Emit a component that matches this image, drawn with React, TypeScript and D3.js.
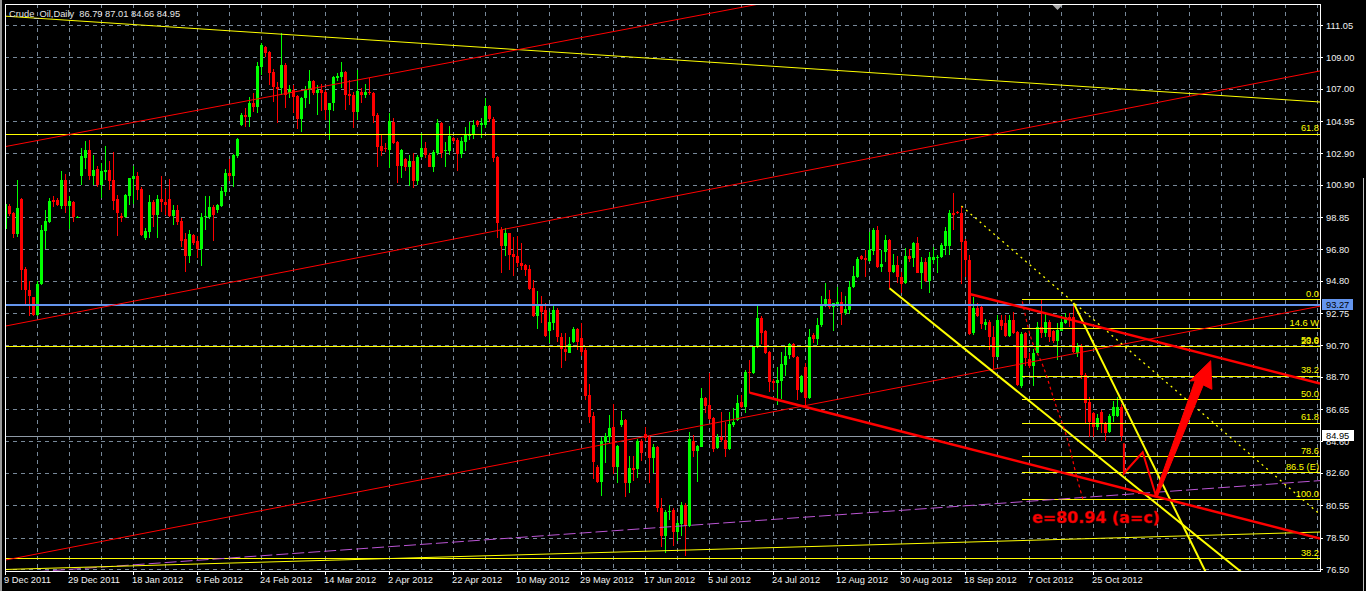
import * as d3 from 'd3';

const WIDTH = 1366;
const HEIGHT = 591;
const PLOT = { left: 5, top: 4, right: 1320, bottom: 571 };

const header = 'Crude_Oil,Daily  86.79 87.01 84.66 84.95';

// daily OHLC, one value per bar
const open = [
  98.10, 99.56, 99.14, 97.79, 100.01, 95.56, 94.23, 93.76, 92.64, 94.61,
  97.99, 98.57, 99.94, 99.94, 99.56, 101.21, 99.56, 99.82, 98.84, 101.43,
  102.63, 103.12, 101.49, 101.89, 100.90, 101.70, 101.85, 101.21, 100.01, 98.93,
  98.84, 100.16, 101.28, 101.43, 100.64, 97.51, 97.93, 99.78, 98.99, 100.01,
  99.78, 100.01, 98.93, 99.31, 98.63, 97.47, 96.35, 97.72, 97.30, 96.83,
  98.84, 98.84, 99.52, 99.27, 99.56, 100.47, 101.68, 101.49, 102.70, 104.70,
  105.34, 105.19, 106.08, 105.87, 108.41, 109.63, 109.36, 108.09, 107.09, 107.03,
  108.51, 106.71, 106.92, 106.54, 105.06, 106.39, 106.92, 107.50, 106.75, 106.92,
  106.82, 105.65, 106.08, 107.67, 107.77, 108.05, 106.67, 106.61, 105.55, 106.82,
  106.61, 106.82, 106.71, 105.34, 103.37, 103.26, 103.11, 104.91, 103.60, 102.10,
  102.52, 102.06, 102.42, 101.15, 102.69, 103.26, 102.80, 102.06, 102.90, 104.81,
  103.07, 103.07, 103.85, 103.75, 102.86, 103.64, 104.00, 104.13, 104.96, 104.70,
  104.70, 105.91, 105.08, 102.69, 98.03, 97.02, 97.82, 96.51, 96.38, 95.96,
  95.81, 95.54, 94.33, 92.57, 93.21, 92.95, 91.64, 92.15, 92.95, 91.26,
  90.45, 90.24, 90.94, 91.73, 91.15, 90.41, 87.55, 86.22, 83.00, 82.05,
  84.59, 84.91, 85.50, 83.00, 85.65, 85.97, 81.95, 82.94, 82.83, 84.65,
  85.08, 84.87, 83.53, 84.23, 80.36, 78.60, 80.14, 80.25, 78.87, 79.36,
  80.57, 79.24, 84.65, 84.02, 84.27, 87.34, 86.92, 86.07, 84.17, 84.91,
  84.70, 84.10, 85.65, 85.97, 87.13, 86.81, 89.04, 88.93, 90.58, 92.47,
  91.62, 90.31, 88.44, 88.30, 88.47, 89.46, 90.10, 90.79, 89.99, 87.77,
  89.36, 87.34, 91.37, 91.09, 92.00, 93.27, 93.65, 93.12, 93.27, 93.48,
  92.74, 92.95, 94.39, 95.07, 96.38, 96.26, 96.09, 96.72, 98.03, 95.71,
  96.66, 97.40, 95.39, 95.81, 95.03, 94.65, 96.38, 96.23, 97.19, 95.33,
  96.02, 94.82, 96.13, 96.23, 96.30, 97.02, 97.02, 99.14, 99.20, 99.14,
  97.35, 96.13, 91.47, 93.06, 93.17, 92.00, 92.21, 91.22, 89.99, 92.32,
  92.11, 91.30, 92.32, 91.58, 88.13, 91.47, 89.82, 89.40, 90.20, 91.85,
  91.47, 92.21, 91.64, 91.01, 91.64, 92.15, 92.53, 92.49, 90.24, 90.62,
  88.83, 87.13, 86.43, 85.54, 86.50, 85.80, 85.23, 86.22, 86.22, 86.79,
];

const high = [
  99.78, 99.69, 99.20, 101.22, 100.07, 95.71, 94.76, 93.80, 94.82, 98.36,
  99.27, 100.05, 100.20, 100.05, 101.79, 101.60, 100.20, 99.88, 98.90, 103.23,
  103.69, 103.75, 102.80, 102.10, 102.27, 103.37, 102.42, 102.97, 100.26, 99.10,
  100.30, 101.36, 102.10, 101.74, 100.79, 98.14, 100.26, 99.94, 100.26, 101.43,
  100.62, 101.26, 99.63, 99.63, 98.78, 97.83, 98.04, 97.79, 97.66, 99.14,
  100.20, 100.20, 99.63, 99.69, 100.79, 101.89, 102.53, 102.87, 103.86, 105.49,
  105.76, 106.46, 106.71, 108.72, 109.89, 109.72, 109.42, 108.24, 107.45, 110.56,
  108.66, 107.24, 107.24, 106.61, 106.50, 107.18, 108.20, 107.56, 107.24, 107.30,
  106.92, 106.12, 107.81, 108.03, 108.68, 108.15, 107.56, 106.82, 108.20, 107.03,
  107.30, 107.67, 106.82, 105.44, 104.07, 103.54, 105.49, 105.13, 103.69, 103.16,
  102.58, 102.80, 102.90, 102.80, 104.22, 103.64, 102.90, 103.11, 105.06, 104.91,
  103.64, 104.64, 103.92, 103.85, 103.96, 104.55, 104.91, 105.02, 105.02, 105.13,
  106.39, 105.97, 105.19, 102.73, 98.25, 98.14, 97.86, 97.61, 97.65, 97.23,
  95.87, 95.81, 94.86, 94.16, 93.84, 93.38, 92.85, 93.27, 93.06, 91.47,
  91.47, 91.26, 91.85, 91.79, 92.15, 90.52, 88.25, 86.50, 83.11, 84.91,
  85.12, 86.28, 86.98, 84.38, 86.56, 86.01, 83.68, 83.68, 84.74, 84.74,
  85.54, 84.95, 84.44, 84.32, 80.99, 80.25, 80.57, 80.36, 79.62, 80.78,
  80.67, 85.22, 85.01, 84.38, 87.98, 87.45, 88.97, 86.18, 85.08, 86.50,
  85.86, 86.50, 86.71, 87.56, 87.56, 89.14, 89.78, 90.67, 93.21, 92.57,
  91.68, 90.37, 88.55, 89.36, 90.31, 90.62, 90.88, 90.88, 90.03, 88.83,
  89.57, 91.73, 91.51, 92.42, 93.84, 94.65, 94.22, 93.42, 94.44, 94.12,
  93.84, 94.82, 95.75, 96.34, 96.45, 96.76, 97.93, 98.14, 98.29, 96.76,
  97.72, 97.44, 96.51, 96.38, 95.39, 96.87, 96.81, 97.29, 97.61, 96.34,
  96.23, 96.66, 96.98, 96.45, 97.19, 98.25, 99.30, 100.36, 99.26, 99.56,
  97.44, 96.45, 93.76, 93.38, 93.21, 92.36, 92.32, 91.94, 92.64, 92.64,
  92.64, 92.64, 92.85, 91.64, 91.58, 91.58, 90.24, 90.45, 92.21, 93.59,
  92.74, 92.32, 91.70, 92.15, 92.64, 92.78, 92.78, 93.38, 90.84, 90.79,
  88.93, 87.45, 86.50, 86.35, 86.60, 85.86, 86.35, 87.19, 87.45, 87.01,
];

const low = [
  97.36, 98.93, 97.51, 97.57, 94.19, 93.28, 92.54, 92.54, 92.54, 94.55,
  96.81, 98.50, 99.52, 99.56, 99.35, 99.10, 98.12, 98.57, 98.80, 100.90,
  101.89, 101.21, 100.90, 100.79, 100.05, 101.21, 100.54, 99.31, 97.68, 98.57,
  98.80, 99.63, 99.69, 99.94, 97.66, 97.40, 97.51, 98.25, 97.51, 99.20,
  98.99, 98.84, 98.36, 98.36, 96.98, 95.39, 95.96, 97.09, 96.28, 95.75,
  98.04, 98.72, 97.30, 99.14, 99.48, 100.20, 101.17, 100.79, 102.60, 104.64,
  104.60, 104.60, 105.55, 105.44, 107.88, 109.04, 107.24, 106.18, 104.81, 106.61,
  105.76, 106.40, 105.44, 104.43, 104.28, 105.76, 106.04, 106.61, 105.34, 105.61,
  105.02, 103.75, 105.61, 107.52, 107.03, 105.65, 105.97, 104.49, 105.02, 106.12,
  106.40, 106.61, 104.81, 102.06, 102.73, 103.00, 101.95, 103.50, 101.04, 101.31,
  101.80, 100.83, 100.68, 100.89, 102.59, 102.63, 102.01, 101.74, 102.80, 102.59,
  102.06, 102.80, 103.54, 101.80, 102.59, 103.07, 103.75, 103.79, 104.60, 103.85,
  104.49, 104.91, 102.37, 97.50, 95.32, 96.38, 95.49, 95.11, 95.70, 95.49,
  95.11, 94.23, 92.53, 91.73, 92.11, 91.26, 90.88, 91.68, 90.94, 89.25,
  89.73, 90.20, 90.84, 90.41, 90.03, 87.24, 85.80, 82.20, 81.99, 81.14,
  83.26, 84.48, 82.54, 81.95, 85.50, 81.05, 81.31, 82.12, 82.26, 83.38,
  84.65, 81.99, 82.58, 80.14, 77.88, 77.50, 79.62, 77.97, 78.30, 78.60,
  77.35, 79.15, 83.60, 82.05, 84.23, 86.43, 85.97, 83.96, 84.10, 84.59,
  83.60, 84.05, 85.54, 85.93, 86.71, 86.39, 87.70, 88.89, 90.52, 90.79,
  90.16, 87.77, 87.87, 86.92, 87.28, 88.76, 89.82, 89.88, 87.24, 87.66,
  86.81, 87.30, 90.84, 90.73, 91.89, 93.12, 92.99, 91.64, 93.17, 92.00,
  92.64, 92.70, 94.33, 94.96, 96.13, 95.03, 96.02, 96.45, 95.60, 95.39,
  96.02, 94.33, 95.28, 94.69, 94.01, 94.60, 96.02, 95.71, 95.28, 94.27,
  94.75, 94.05, 95.88, 95.33, 96.25, 96.45, 96.45, 98.03, 99.04, 94.60,
  95.03, 91.37, 91.37, 92.53, 91.73, 91.68, 90.41, 89.19, 89.95, 91.68,
  91.26, 91.26, 91.43, 88.13, 87.98, 89.40, 89.25, 88.13, 90.10, 91.15,
  91.22, 90.94, 90.88, 89.78, 91.60, 92.06, 91.89, 90.20, 89.99, 88.55,
  85.80, 84.91, 84.91, 85.33, 85.16, 84.66, 85.16, 85.86, 86.14, 84.66,
];

const close = [
  99.69, 99.06, 97.79, 99.42, 95.50, 94.19, 93.87, 92.64, 94.61, 98.04,
  98.61, 99.88, 99.84, 99.63, 101.21, 99.56, 99.88, 98.84, 98.86, 102.70,
  103.12, 101.49, 101.85, 100.90, 101.79, 101.85, 101.15, 99.90, 99.10, 98.82,
  100.26, 101.32, 101.43, 100.58, 97.72, 97.98, 99.78, 98.99, 99.99, 99.78,
  99.63, 98.93, 99.31, 98.57, 97.36, 96.35, 97.79, 97.23, 96.83, 98.84,
  98.93, 99.52, 98.99, 99.63, 100.52, 101.68, 101.49, 102.80, 103.80, 105.34,
  105.19, 106.12, 105.82, 108.45, 109.78, 109.25, 108.03, 107.09, 106.97, 108.51,
  106.61, 106.97, 106.50, 105.06, 106.39, 106.92, 107.50, 106.71, 106.92, 106.75,
  105.65, 106.08, 107.77, 107.81, 108.05, 106.61, 106.56, 105.55, 106.86, 106.61,
  106.82, 106.71, 105.27, 103.33, 103.07, 103.16, 104.96, 103.54, 102.10, 103.11,
  102.01, 102.42, 101.15, 102.69, 103.26, 102.80, 102.06, 103.01, 104.81, 102.95,
  103.11, 104.00, 103.71, 102.86, 103.69, 104.07, 104.07, 104.70, 104.70, 104.81,
  105.91, 105.06, 102.63, 98.46, 97.02, 97.82, 96.45, 96.34, 95.92, 95.77,
  95.49, 94.27, 92.57, 93.21, 92.85, 91.30, 92.21, 92.95, 91.26, 90.45,
  90.31, 90.79, 91.73, 90.94, 90.31, 87.49, 86.18, 83.32, 82.05, 84.65,
  84.95, 85.44, 83.00, 84.32, 85.97, 81.95, 82.90, 82.79, 84.65, 83.89,
  84.80, 83.53, 84.23, 80.36, 78.60, 80.14, 80.21, 78.87, 79.40, 80.57,
  79.24, 84.74, 84.02, 84.32, 87.34, 86.86, 86.01, 84.10, 84.91, 84.70,
  84.10, 85.71, 85.86, 87.03, 86.81, 89.04, 88.97, 90.62, 92.47, 91.51,
  90.24, 88.40, 88.30, 88.51, 89.52, 90.03, 90.79, 89.95, 87.87, 88.76,
  87.34, 91.26, 91.09, 92.00, 93.27, 93.65, 93.12, 93.38, 93.44, 92.74,
  93.02, 94.44, 95.11, 96.19, 96.17, 96.13, 96.76, 98.03, 95.66, 95.87,
  97.40, 95.39, 95.81, 95.03, 94.60, 96.38, 96.17, 97.19, 95.33, 96.02,
  94.82, 96.34, 96.30, 96.34, 97.08, 97.99, 99.14, 98.99, 99.09, 97.29,
  96.13, 91.43, 93.06, 92.57, 92.06, 92.21, 91.22, 89.99, 92.32, 91.94,
  91.30, 92.32, 91.51, 88.19, 91.43, 89.88, 89.40, 90.20, 91.85, 91.47,
  92.21, 91.26, 91.01, 91.68, 92.21, 92.53, 92.32, 90.31, 90.62, 88.83,
  87.07, 85.86, 85.54, 86.07, 85.80, 85.16, 86.22, 86.81, 86.77, 84.95,
];

const priceTicks = [
  111.05, 109.0, 107.0, 104.95, 102.9, 100.9, 98.85, 96.8, 94.8,
  92.75, 90.7, 88.7, 86.65, 84.6, 82.6, 80.55, 78.5, 76.5,
];

const dateLabels = [
  '9 Dec 2011', '29 Dec 2011', '18 Jan 2012', '6 Feb 2012', '24 Feb 2012', '14 Mar 2012',
  '2 Apr 2012', '22 Apr 2012', '10 May 2012', '29 May 2012', '17 Jun 2012', '5 Jul 2012',
  '24 Jul 2012', '12 Aug 2012', '30 Aug 2012', '18 Sep 2012', '7 Oct 2012', '25 Oct 2012',
];
const barsPerLabel = 16;
const barsPerGrid = 8;

const markedPrice = 93.27;

// trendline anchors: [bar, price]
type Pt = [number, number];
const topYellow: Pt[] = [[0, 111.61], [328, 106.17]];
const channelUpper: Pt[] = [[0, 103.33], [174, 111.69]];
const channelMiddle: Pt[] = [[0, 91.93], [329, 108.15]];
const channelLower: Pt[] = [[0, 77.07], [329, 93.21]];
const purpleLine: Pt[] = [[14, 76.44], [329, 82.12]];
const baseYellow: Pt[] = [[0, 76.47], [329, 78.85]];
const dottedYellow: Pt[] = [[239, 99.55], [328, 80.1]];
const wedgeYellowA: Pt[] = [[221, 94.33], [298.6, 78.43]];
const wedgeYellowB: Pt[] = [[267, 93.4], [298.6, 77.06]];
const wedgeRedTop: Pt[] = [[241, 93.97], [328.6, 88.28]];
const wedgeRedBottom: Pt[] = [[186, 87.7], [328.6, 78.44]];

// fibonacci objects
const fibShortStart = 254;
const fibShortPrices = [93.63, 80.93];
const fibShortLevels = [0, 14.6, 23.6, 38.2, 50, 61.8, 78.6, 86.5, 100];
const fibShortNames = ['0.0', '14.6 W', '23.6', '38.2', '50.0', '61.8', '78.6', '86.5 (E)', '100.0'];
const fibLongPrices = [33.52, 147.82];
const fibLongLevels = [38.2, 50, 61.8];
const fibLongNames = ['38.2', '50.0', '61.8'];

// hand-drawn wave path, arrow and arc
const wavePath: Pt[] = [[279.6, 84.48], [279.6, 82.58], [284.3, 83.91], [287.55, 81.2]];
const arrowShape: Pt[] = [
  [287.2, 81.09], [297.4, 88.46], [296.1, 88.44], [301.3, 89.73],
  [301.6, 87.91], [299.45, 88.19], [287.95, 81.09],
];
const arcPath: Pt[] = [
  [254.2, 93.5], [256.55, 91.04], [259.45, 89.35], [262.4, 87.04],
  [265.3, 84.9], [267.8, 82.36], [269.4, 80.88],
];
const targetText = 'e=80.94 (a=c)';
const targetAnchor: Pt = [256.6, 80.18];
const shiftBar = 263;

const AXIS_FONT = '"Liberation Sans", Arial, sans-serif';
const BULL = '#00ff00';
const BEAR = '#ff0000';
const GRID = '#778899';

export default function App() {
  const x = d3.scaleLinear().domain([0, 1]).range([PLOT.left, PLOT.left + 4]);
  const y = d3.scaleLinear().domain([76.5, 111.05]).range([569, 25]);
  const cx = (i: number) => x(i) + 0.5;
  const crisp = (v: number) => Math.round(v) + 0.5;

  const extend = (pts: Pt[], fromLeft: boolean) => {
    const [a, b] = pts;
    const x1 = cx(a[0]), y1 = y(a[1]);
    const k = (y(b[1]) - y1) / (cx(b[0]) - x1);
    const xs = fromLeft ? PLOT.left : x1;
    return { x1: xs, y1: y1 + k * (xs - x1), x2: PLOT.right, y2: y1 + k * (PLOT.right - x1) };
  };

  const line = d3.line<Pt>().x(d => cx(d[0])).y(d => y(d[1]));
  const arc = d3.line<Pt>().x(d => cx(d[0])).y(d => y(d[1])).curve(d3.curveCatmullRom);

  const gridXs = d3.range(barsPerGrid, 400, barsPerGrid).map(i => crisp(x(i))).filter(v => v < PLOT.right);
  const fibPrice = (p: number[], lvl: number) => p[0] + (p[1] - p[0]) * lvl / 100;

  const rays = [
    { pts: topYellow, left: true, color: '#ffff00', w: 1, dash: undefined },
    { pts: channelUpper, left: true, color: '#ff0000', w: 1, dash: undefined },
    { pts: channelMiddle, left: true, color: '#ff0000', w: 1, dash: undefined },
    { pts: channelLower, left: true, color: '#ff0000', w: 1, dash: undefined },
    { pts: purpleLine, left: true, color: '#ba55d3', w: 1, dash: '12,4' },
    { pts: baseYellow, left: true, color: '#ffff00', w: 1, dash: undefined },
    { pts: dottedYellow, left: false, color: '#ffff00', w: 1.3, dash: '2,4' },
    { pts: wedgeYellowA, left: false, color: '#ffff00', w: 2, dash: undefined },
    { pts: wedgeYellowB, left: false, color: '#ffff00', w: 2, dash: undefined },
    { pts: wedgeRedTop, left: false, color: '#ff0000', w: 2.5, dash: undefined },
    { pts: wedgeRedBottom, left: false, color: '#ff0000', w: 2.5, dash: undefined },
  ];

  const last = close[close.length - 1];

  return (
    <svg
      width={WIDTH}
      height={HEIGHT}
      style={{ position: 'absolute', left: 0, top: 0, background: '#000', display: 'block' }}
      fontFamily={AXIS_FONT}
    >
      <defs>
        <clipPath id="plot">
          <rect x={PLOT.left + 1} y={PLOT.top + 1} width={PLOT.right - PLOT.left - 1} height={PLOT.bottom - PLOT.top - 1} />
        </clipPath>
      </defs>
      <rect x={0} y={0} width={WIDTH} height={HEIGHT} fill="#000" />
      <rect x={0} y={0} width={2} height={HEIGHT} fill="#9a9a9a" />
      <line x1={1363.5} x2={1363.5} y1={178} y2={HEIGHT} stroke="#c0c0c0" />

      {/* grid */}
      <g stroke={GRID} strokeDasharray="4,4" shapeRendering="crispEdges" clipPath="url(#plot)">
        {gridXs.map(gx => (
          <line key={'gx' + gx} x1={gx} x2={gx} y1={PLOT.top} y2={PLOT.bottom} />
        ))}
        {priceTicks.map(v => (
          <line key={'gy' + v} x1={PLOT.left} x2={PLOT.right} y1={crisp(y(v))} y2={crisp(y(v))} />
        ))}
      </g>

      {/* bid line */}
      <line x1={PLOT.left} x2={PLOT.right} y1={crisp(y(last))} y2={crisp(y(last))} stroke="#8f9aa6" shapeRendering="crispEdges" />

      {/* candles */}
      <g shapeRendering="crispEdges" clipPath="url(#plot)">
        {open.map((o, i) => {
          const c = close[i];
          const col = c >= o ? BULL : BEAR;
          const yh = Math.round(y(high[i]));
          const yl = Math.round(y(low[i]));
          const yt = Math.round(y(Math.max(o, c)));
          const yb = Math.round(y(Math.min(o, c)));
          return (
            <g key={i} fill={col}>
              <rect x={x(i)} y={yh} width={1} height={Math.max(1, yl - yh)} />
              <rect x={x(i) - 1} y={yt} width={3} height={Math.max(1, yb - yt)} />
            </g>
          );
        })}
      </g>

      {/* drawing objects */}
      <g clipPath="url(#plot)">
        {fibLongLevels.map(l => {
          const yy = crisp(y(fibPrice(fibLongPrices, l)));
          return <line key={'fl' + l} x1={PLOT.left} x2={PLOT.right} y1={yy} y2={yy} stroke="#ffff00" shapeRendering="crispEdges" />;
        })}
        {fibShortLevels.map(l => {
          const yy = crisp(y(fibPrice(fibShortPrices, l)));
          return <line key={'fs' + l} x1={cx(fibShortStart)} x2={PLOT.right} y1={yy} y2={yy} stroke="#ffff00" shapeRendering="crispEdges" />;
        })}
        <line x1={PLOT.left} x2={PLOT.right} y1={y(markedPrice)} y2={y(markedPrice)} stroke="#6495ed" strokeWidth={2} />
        {rays.map((r, k) => {
          const s = extend(r.pts, r.left);
          return <line key={'r' + k} {...s} stroke={r.color} strokeWidth={r.w} strokeDasharray={r.dash} />;
        })}
        <path d={arc(arcPath) || ''} fill="none" stroke="#ff0000" strokeWidth={1.2} strokeDasharray="3,3" />
        <path d={line(wavePath) || ''} fill="none" stroke="#ff0000" strokeWidth={2} strokeLinejoin="miter" />
        <path d={(line(arrowShape) || '') + 'Z'} fill="#ff0000" stroke="#ff0000" strokeWidth={1} />

        {fibLongLevels.map((l, k) => (
          <text key={'flt' + l} x={PLOT.right - 1} y={y(fibPrice(fibLongPrices, l)) - 2.5} textAnchor="end" fontSize={9.3} fill="#ffff00">
            {fibLongNames[k]}
          </text>
        ))}
        {fibShortLevels.map((l, k) => (
          <text key={'fst' + l} x={PLOT.right - 1} y={y(fibPrice(fibShortPrices, l)) - 2.5} textAnchor="end" fontSize={9.3} fill="#ffff00">
            {fibShortNames[k]}
          </text>
        ))}
        <text
          x={cx(targetAnchor[0])}
          y={y(targetAnchor[1]) + 12}
          fontFamily='"DejaVu Sans", sans-serif'
          fontWeight="bold"
          fontSize={16}
          fill="#ff0000"
          stroke="#b00000"
          strokeWidth={0.4}
          textLength={128}
          lengthAdjust="spacing"
        >
          {targetText}
        </text>
      </g>

      {/* frame */}
      <rect
        x={PLOT.left + 0.5}
        y={PLOT.top + 0.5}
        width={PLOT.right - PLOT.left}
        height={PLOT.bottom - PLOT.top}
        fill="none"
        stroke="#fff"
        shapeRendering="crispEdges"
      />
      <polygon
        points={`${cx(shiftBar) - 5},${PLOT.top + 1} ${cx(shiftBar) + 5},${PLOT.top + 1} ${cx(shiftBar)},${PLOT.top + 6}`}
        fill="#a8a8a8"
      />

      <text x={9} y={16.5} fontSize={9.3} fill="#e6e6e6" style={{ whiteSpace: 'pre' }}>{header}</text>

      {/* price axis */}
      <g fontSize={9.3} fill="#f0f0f0">
        {priceTicks.map(v => (
          <g key={'pt' + v}>
            <line x1={PLOT.right} x2={PLOT.right + 3} y1={crisp(y(v))} y2={crisp(y(v))} stroke="#fff" shapeRendering="crispEdges" />
            <text x={1326} y={y(v) + 3.5}>{v.toFixed(2)}</text>
          </g>
        ))}
      </g>
      <rect x={1322} y={Math.round(y(markedPrice)) - 6} width={31} height={11} fill="#6495ed" />
      <text x={1326} y={y(markedPrice) + 3.5} fontSize={9.3} fill="#000">{markedPrice.toFixed(2)}</text>
      <rect x={1322} y={Math.round(y(last)) - 6} width={32} height={11} fill="#fff" />
      <text x={1326} y={y(last) + 3.5} fontSize={9.3} fill="#000">{last.toFixed(2)}</text>

      {/* time axis */}
      <g fontSize={9.3} fill="#f0f0f0">
        {dateLabels.map((d, k) => (
          <g key={d}>
            <line x1={crisp(x(k * barsPerLabel))} x2={crisp(x(k * barsPerLabel))} y1={PLOT.bottom} y2={PLOT.bottom + 4} stroke="#fff" shapeRendering="crispEdges" />
            <text x={x(k * barsPerLabel) - 1} y={583}>{d}</text>
          </g>
        ))}
      </g>
    </svg>
  );
}
